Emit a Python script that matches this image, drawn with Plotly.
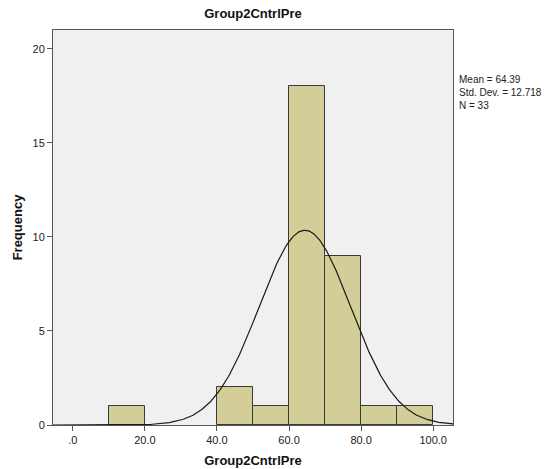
import numpy as np
import plotly.graph_objects as go

bin_starts = [10, 40, 50, 60, 70, 80, 90]
bin_width = 10
counts = [1, 2, 1, 18, 9, 1, 1]
mean_val = 64.39
std_val = 12.718
n_val = 33
x_ticks = [0, 20, 40, 60, 80, 100]
x_tick_labels = [".0", "20.0", "40.0", "60.0", "80.0", "100.0"]
y_ticks = [0, 5, 10, 15, 20]

centers = [s + bin_width / 2 for s in bin_starts]

xr = [-5.5, 105.5]
xs = np.linspace(xr[0], xr[1], 400)
ys = n_val * bin_width * np.exp(-0.5 * ((xs - mean_val) / std_val) ** 2) / (std_val * np.sqrt(2 * np.pi))

fig = go.Figure()
fig.add_trace(go.Bar(
    x=centers, y=counts, width=bin_width,
    marker=dict(color="#D3CE97", line=dict(color="#3a3a3a", width=1)),
    hoverinfo="x+y",
))
fig.add_trace(go.Scatter(
    x=xs, y=ys, mode="lines",
    line=dict(color="#1a1a1a", width=1.2),
    hoverinfo="skip",
))

font_family = "Liberation Sans, Arial, sans-serif"
fig.update_layout(
    width=548, height=469,
    margin=dict(l=53, r=95, t=30, b=44, autoexpand=False),
    paper_bgcolor="white",
    plot_bgcolor="#F0F0F0",
    showlegend=False,
    bargap=0,
    font=dict(family=font_family, size=11, color="#222222"),
    title=dict(text="<b>Group2CntrlPre</b>", x=253 / 548, xanchor="center",
               y=1 - 13 / 469, yanchor="middle",
               font=dict(size=13, color="#111111")),
    xaxis=dict(
        range=xr, tickvals=x_ticks, ticktext=x_tick_labels,
        showgrid=False, zeroline=False, automargin=False,
        showline=True, linecolor="#555555", linewidth=1, mirror=True,
        ticks="outside", ticklen=5, tickcolor="#555555",
        title=dict(text="<b>Group2CntrlPre</b>", font=dict(size=13, color="#111111"), standoff=10),
    ),
    yaxis=dict(
        range=[0, 21], tickvals=y_ticks,
        showgrid=False, zeroline=False, automargin=False,
        showline=True, linecolor="#555555", linewidth=1, mirror=True,
        ticks="outside", ticklen=5, tickcolor="#555555",
        title=dict(text="<b>Frequency</b>", font=dict(size=13, color="#111111"), standoff=6),
    ),
    annotations=[dict(
        text="Mean = 64.39<br>Std. Dev. = 12.718<br>N = 33",
        xref="paper", yref="paper", x=1.01, y=1 - 42 / 395,
        xanchor="left", yanchor="top", align="left", showarrow=False,
        font=dict(size=10, color="#222222"),
    )],
)

fig.write_html("out.html", config={"displayModeBar": False},
               post_script="document.body.style.margin='0';document.body.style.padding='0';")
